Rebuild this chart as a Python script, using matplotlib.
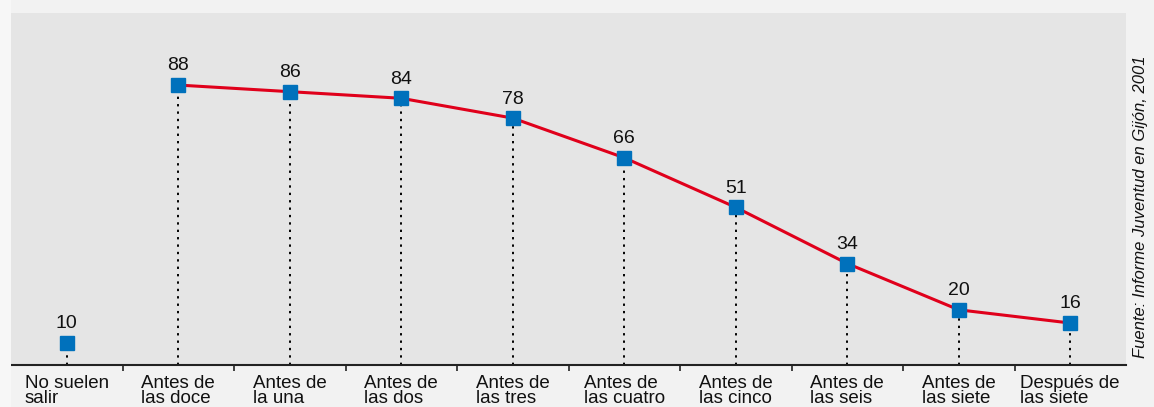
import matplotlib.pyplot as plt
from matplotlib.patches import Rectangle

categories = ["No suelen\nsalir", "Antes de\nlas doce", "Antes de\nla una", "Antes de\nlas dos",
              "Antes de\nlas tres", "Antes de\nlas cuatro", "Antes de\nlas cinco", "Antes de\nlas seis",
              "Antes de\nlas siete", "Después de\nlas siete"]
values = [10, 88, 86, 84, 78, 66, 51, 34, 20, 16]
source = "Fuente: Informe Juventud en Gijón, 2001"

plt.rcParams["font.family"] = ["Liberation Sans", "DejaVu Sans"]

fig = plt.figure(figsize=(11.54, 4.07), dpi=100, facecolor="#f2f2f2")
fig.patches.append(Rectangle((0, 0), 11 / 1154, 1, transform=fig.transFigure,
                             facecolor="#f7f7f7", edgecolor="none", zorder=0))
ax = fig.add_axes([11 / 1154, 1 - 365 / 407, 1115 / 1154, 352 / 407])
ax.set_facecolor("#e5e5e5")

x = list(range(len(values)))
ymin, ymax = 3.3, 109.8
ax.set_xlim(-0.5, len(values) - 0.5)
ax.set_ylim(ymin, ymax)

# dotted drop lines
ax.vlines(x, ymin, values, colors="black", linestyles=(0, (1.2, 2.6)), linewidth=1.4, zorder=1)

# red line (excluding "No suelen salir")
ax.plot(x[1:], values[1:], color="#e0001b", linewidth=2.2, zorder=2)
ax.plot(x, values, linestyle="none", marker="s", markersize=10,
        color="#0071bc", zorder=3)

for xi, v in zip(x, values):
    ax.annotate(str(v), (xi, v), xytext=(0, 10.5), textcoords="offset points",
                ha="center", va="baseline", fontsize=14, color="#111111")

for s in ["top", "right", "left"]:
    ax.spines[s].set_visible(False)
ax.spines["bottom"].set_linewidth(1.5)
ax.spines["bottom"].set_color("#222222")
ax.set_yticks([])
ax.set_xticks(x)
ax.set_xticklabels(categories, fontsize=13.5, linespacing=0.9, multialignment="left",
                   color="#111111")
ax.tick_params(axis="x", which="major", length=0, pad=7)
ax.set_xticks([i + 0.5 for i in range(len(values) - 1)], minor=True)
ax.tick_params(axis="x", which="minor", length=4, width=1.2, color="#222222")

fig.text(0.988, 1 - 207 / 407, source, rotation=90, ha="center", va="center",
         fontsize=12, style="italic", color="#111111")

fig.savefig("out.png", dpi=100, facecolor=fig.get_facecolor())
